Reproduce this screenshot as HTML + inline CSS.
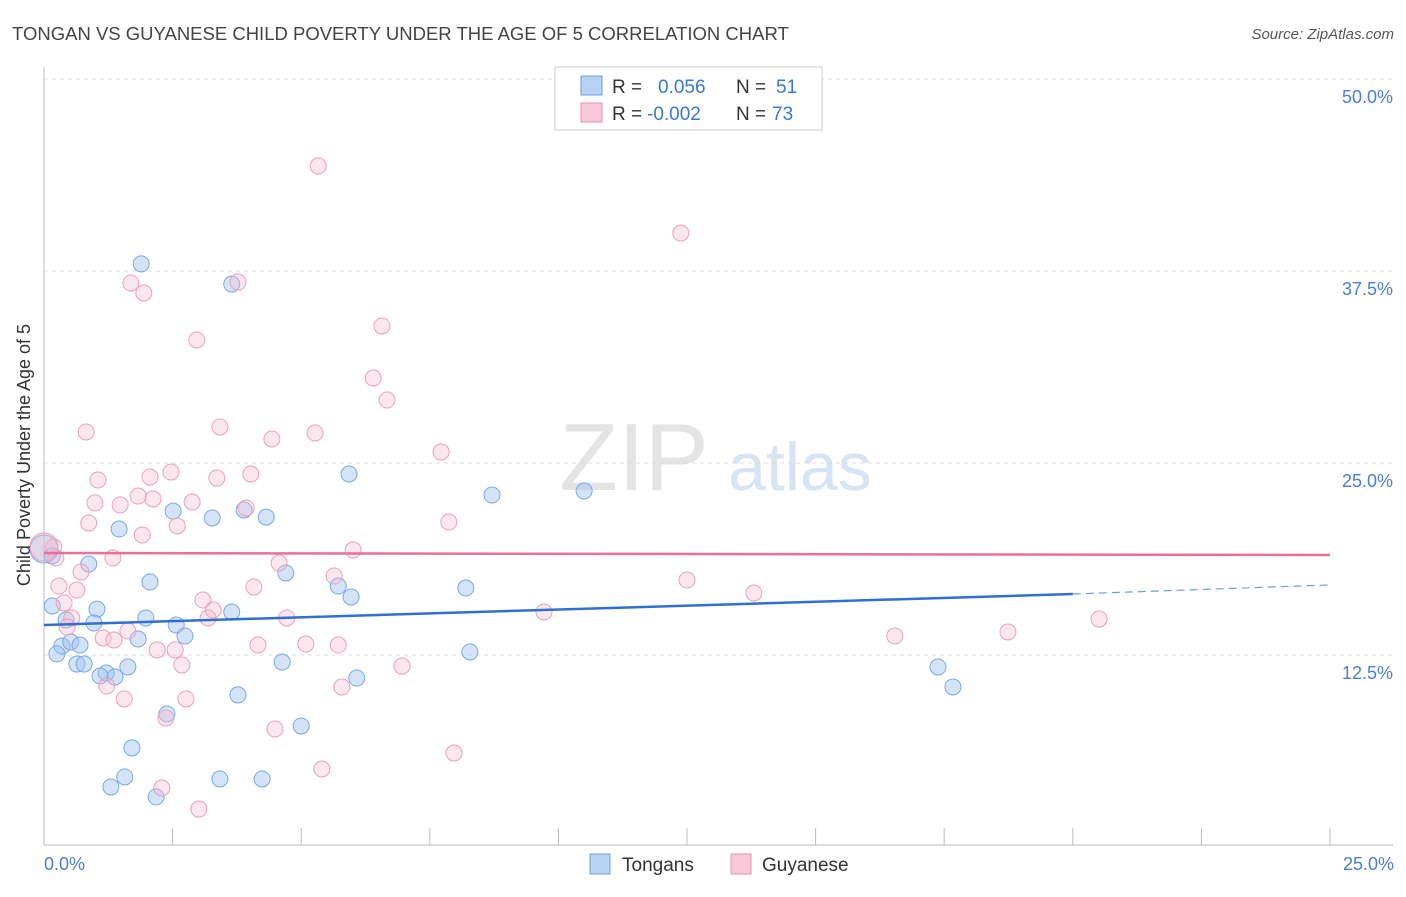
<!DOCTYPE html>
<html><head><meta charset="utf-8"><style>
body{margin:0;background:#fff;font-family:"Liberation Sans",sans-serif;}
svg text{font-family:"Liberation Sans",sans-serif;}
</style></head><body>
<svg id="chart" width="1406" height="892" viewBox="0 0 1406 892">
<text x="12" y="40" font-size="18.5" fill="#444">TONGAN VS GUYANESE CHILD POVERTY UNDER THE AGE OF 5 CORRELATION CHART</text>
<text x="1394" y="39" font-size="15" fill="#555" text-anchor="end" font-style="italic">Source: ZipAtlas.com</text>
<text x="634" y="490" font-size="96" fill="#e4e4e4" font-family="Liberation Serif" text-anchor="middle">ZIP</text>
<text x="800" y="490" font-size="68" fill="#d6e4f5" text-anchor="middle">atlas</text>
<g id="grid"></g>
<g id="axes"></g>
<g id="points"></g>
<g id="trends"></g>
<text x="30" y="455" font-size="18" fill="#333" text-anchor="middle" transform="rotate(-90 30 455)">Child Poverty Under the Age of 5</text>
<text x="44" y="870" font-size="18" fill="#4a7fd4">0.0%</text>
<text x="1394" y="870" font-size="18" fill="#4a7fd4" text-anchor="end">25.0%</text>
<g>
<rect x="555" y="67" width="267" height="63" fill="#fff" stroke="#ccc"/>
<rect x="581" y="76" width="21" height="19" fill="#b8d2f4" stroke="#6a9fe0"/>
<rect x="581" y="103" width="21" height="19" fill="#f9c8d8" stroke="#e890b0"/>
<text x="612" y="93" font-size="19" fill="#333">R = </text><text x="658" y="93" font-size="19" fill="#3a78d4">0.056</text>
<text x="736" y="93" font-size="19" fill="#333">N = </text><text x="776" y="93" font-size="19" fill="#3a78d4">51</text>
<text x="612" y="120" font-size="19" fill="#333">R = </text><text x="647" y="120" font-size="19" fill="#3a78d4">-0.002</text>
<text x="736" y="120" font-size="19" fill="#333">N = </text><text x="772" y="120" font-size="19" fill="#3a78d4">73</text>
</g>
<g>
<rect x="590" y="854" width="20" height="20" fill="#b8d2f4" stroke="#6a9fe0"/>
<text x="622" y="871" font-size="19" fill="#333">Tongans</text>
<rect x="731" y="854" width="20" height="20" fill="#f9c8d8" stroke="#e890b0"/>
<text x="762" y="871" font-size="19" fill="#333">Guyanese</text>
</g>
</svg>
<script>
const yTicks=[50,37.5,25,12.5];
const yTickLabels=["50.0%","37.5%","25.0%","12.5%"];
const xTicks=[2.5,5,7.5,10,12.5,15,17.5,20,22.5,25];
const tonganX=[1.89,3.65,5.93,8.71,10.50,2.51,3.27,3.89,4.32,1.46,0.87,2.06,4.70,5.72,5.97,8.20,0.16,1.03,1.98,2.57,2.74,1.83,0.97,0.35,0.52,0.70,0.25,0.64,0.78,1.21,1.38,1.63,1.09,3.65,4.63,6.08,8.28,3.77,2.39,5.00,1.71,1.57,1.30,2.18,3.42,4.24,17.38,17.67,0,0.16,0.43];
const tonganY=[37.96,36.65,24.28,22.92,23.18,21.87,21.42,21.94,21.48,20.70,18.42,17.25,17.84,16.99,16.28,16.86,15.69,15.49,14.91,14.45,13.74,13.54,14.58,13.09,13.35,13.15,12.57,11.91,11.91,11.33,11.07,11.72,11.13,15.30,12.04,11.00,12.70,9.90,8.66,7.88,6.45,4.56,3.91,3.26,4.43,4.43,11.72,10.42,19.40,18.95,14.78];
const tonganR=[8,8,8,8,8,8,8,8,8,8,8,8,8,8,8,8,8,8,8,8,8,8,8,8,8,8,8,8,8,8,8,8,8,8,8,8,8,8,8,8,8,8,8,8,8,8,8,8,14,8,8];
const guyX=[5.33,12.38,1.69,1.94,3.77,2.97,6.57,6.40,6.67,0.82,3.42,4.43,5.27,7.72,1.05,2.06,2.47,3.36,4.02,1.83,2.12,0.99,1.48,2.88,3.93,0.87,2.59,1.91,7.87,6.01,0.19,0.23,1.34,0.72,4.57,5.64,0.29,0.64,4.08,12.50,13.80,0.39,3.09,3.29,3.19,4.72,9.72,20.51,0.54,0.45,1.63,1.15,1.36,4.16,5.09,5.72,2.20,2.55,16.54,18.74,2.68,6.96,1.22,1.56,2.76,5.79,2.37,4.49,7.97,5.40,2.29,3.01,0];
const guyY=[44.34,39.97,36.72,36.07,36.78,33.01,33.92,30.53,29.10,27.02,27.34,26.56,26.95,25.72,23.89,24.09,24.41,24.02,24.28,22.85,22.66,22.40,22.27,22.46,22.07,21.09,20.90,20.31,21.16,19.34,19.53,18.82,18.82,17.90,18.49,17.64,16.99,16.73,16.93,17.38,16.54,15.89,16.08,15.43,14.91,14.91,15.30,14.84,14.91,14.32,14.06,13.61,13.48,13.15,13.22,13.15,12.83,12.83,13.74,14.00,11.85,11.78,10.48,9.64,9.64,10.42,8.40,7.68,6.12,5.08,3.84,2.47,19.53];
const blueTrend=[[0,14.45],[20,16.47],[25,17.06]];
const pinkTrend=[[0,19.14],[25,19.01]];
const NS="http://www.w3.org/2000/svg";
const X=v=>44+v*51.44, Y=v=>79+(50-v)*15.36;
function mk(tag,attrs,parent){const e=document.createElementNS(NS,tag);for(const k in attrs)e.setAttribute(k,attrs[k]);document.getElementById(parent).appendChild(e);return e;}
yTicks.forEach((t,i)=>{
 const l=mk('line',{x1:44,x2:1393,y1:Y(t),y2:Y(t),stroke:'#ddd','stroke-dasharray':'4,4'},'grid');
 
 
 const tx=mk('text',{x:1393,y:Y(t)+24,'font-size':18,fill:'#4a7fd4','text-anchor':'end'},'grid');
 tx.textContent=yTickLabels[i];
 
 
});
let ax=mk('line',{x1:44,x2:1393,y1:845,y2:845,stroke:'#bbb'},'axes');


let ay=mk('line',{x1:44,x2:44,y1:67,y2:845,stroke:'#bbb'},'axes');


xTicks.forEach(t=>{
 const l=mk('line',{x1:X(t),x2:X(t),y1:828,y2:845,stroke:'#bbb'},'axes');
 
 
});
tonganX.forEach((x,i)=>{
 const c=mk('circle',{cx:X(x),cy:Y(tonganY[i]),r:tonganR[i],fill:'rgba(160,195,240,0.45)',stroke:'#7aa8e4','stroke-width':1},'points');
 
 
});
guyX.forEach((x,i)=>{
 const c=mk('circle',{cx:X(x),cy:Y(guyY[i]),r:i===guyX.length-1?14:8,fill:'rgba(248,185,205,0.35)',stroke:'#eaa0bc','stroke-width':1},'points');
 
 
});
let bl=mk('line',{x1:X(blueTrend[0][0]),y1:Y(blueTrend[0][1]),x2:X(blueTrend[1][0]),y2:Y(blueTrend[1][1]),stroke:'#2f6fd4','stroke-width':2.5},'trends');


let bd=mk('line',{x1:X(blueTrend[1][0]),y1:Y(blueTrend[1][1]),x2:X(blueTrend[2][0]),y2:Y(blueTrend[2][1]),stroke:'#6a9fe0','stroke-width':1.2,'stroke-dasharray':'8,5'},'trends');


let pl=mk('line',{x1:X(pinkTrend[0][0]),y1:Y(pinkTrend[0][1]),x2:X(pinkTrend[1][0]),y2:Y(pinkTrend[1][1]),stroke:'#e8709a','stroke-width':2.5},'trends');


</script>
</body></html>
